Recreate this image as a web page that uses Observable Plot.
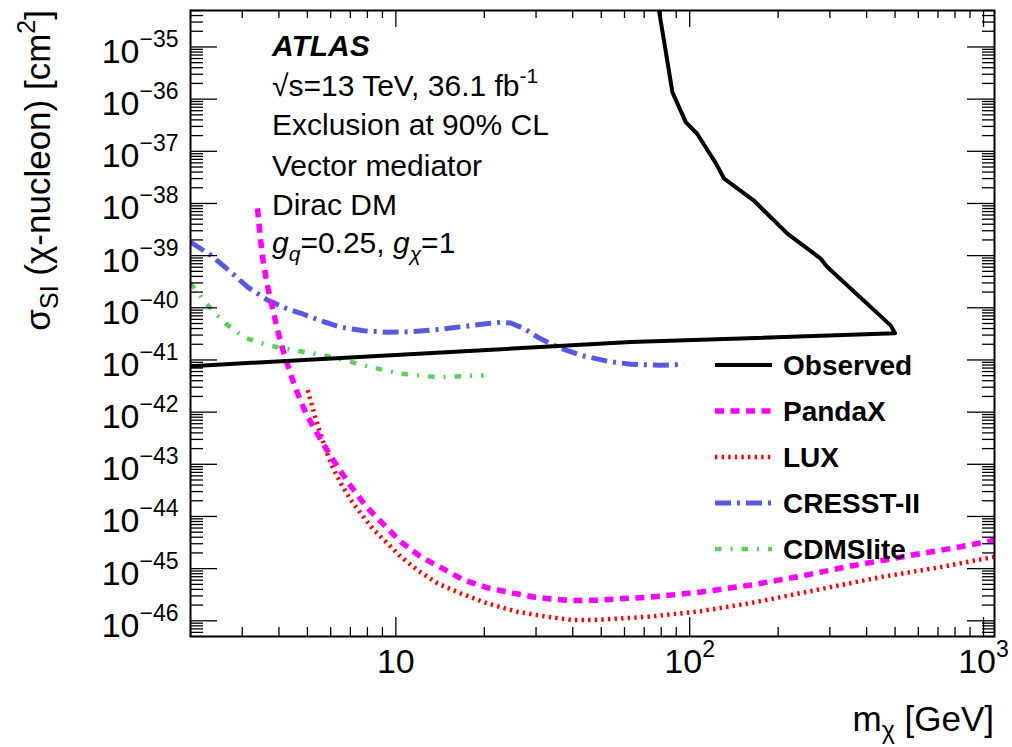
<!DOCTYPE html>
<html>
<head>
<meta charset="utf-8">
<script src="https://cdn.jsdelivr.net/npm/d3@7"></script>
<script src="https://cdn.jsdelivr.net/npm/@observablehq/plot@0.6"></script>
<style>
  html, body { margin: 0; padding: 0; background: #ffffff; }
  #chart svg { display: block; }
</style>
</head>
<body>
<div id="chart"></div>
<script>
// Dark-matter mass m_chi [GeV] and spin-independent chi-nucleon cross-section [cm^2]

// ATLAS observed 90% CL exclusion contour (Vector mediator, Dirac DM)
const observedMass = [2, 63, 500, 483, 294, 279, 215, 165, 131, 123, 106, 97, 87.3, 82.8, 78.6, 77];
const observedXsec = [7.6e-42, 2.2e-41, 3.25e-41, 4.6e-41, 6.05e-40, 8.8e-40, 2.64e-39, 1.15e-38,
                      2.98e-38, 5.8e-38, 2.17e-37, 3.62e-37, 1.36e-36, 8.6e-36, 5e-35, 1.2e-34];

// PandaX
const pandaxMass = [3.38, 3.45, 3.53, 3.64, 3.79, 3.94, 4.13, 4.36, 4.64, 4.94, 5.22, 5.56, 5.92, 6.35,
                    7.03, 7.91, 9.01, 10.4, 12.16, 14.42, 17.03, 20.5, 24.6, 29.5, 35.5, 39.9, 48.5,
                    73.7, 109, 161, 239, 353, 572, 772, 1048, 1100];
const pandaxXsec = [8.05e-39, 2.45e-39, 8.13e-40, 2.94e-40, 1.07e-40, 4.05e-41, 1.53e-41, 5.81e-42,
                    2.2e-42, 9.53e-43, 5.37e-43, 2.9e-43, 1.63e-43, 8.8e-44, 3.8e-44, 1.57e-44,
                    7.35e-45, 3.26e-45, 1.68e-45, 1.01e-45, 6.02e-46, 4.29e-46, 3.47e-46, 2.85e-46,
                    2.55e-46, 2.44e-46, 2.49e-46, 2.85e-46, 3.55e-46, 4.83e-46, 7.18e-46, 1.12e-45,
                    1.82e-45, 2.42e-45, 3.36e-45, 3.55e-45];

// LUX
const luxMass = [5.01, 5.14, 5.27, 5.49, 5.78, 6.09, 6.5, 7.03, 7.6, 8.33, 9.25, 10.4, 11.85, 13.87,
                 16.64, 20.5, 25.9, 32.8, 40.4, 49.8, 73.7, 109, 161, 239, 353, 446, 714, 1073, 1100];
const luxXsec = [2.63e-42, 1.57e-42, 9.4e-43, 4.5e-43, 1.86e-43, 8.91e-44, 4.29e-44, 2.05e-44,
                 1.14e-44, 5.89e-45, 3.26e-45, 1.68e-45, 9.35e-46, 5.2e-46, 3.35e-46, 2.15e-46,
                 1.49e-46, 1.19e-46, 1.03e-46, 1.05e-46, 1.2e-46, 1.53e-46, 2.18e-46, 3.4e-46,
                 5.27e-46, 6.87e-46, 1.07e-45, 1.66e-45, 1.71e-45];

// CRESST-II
const cresstMass = [2.0, 2.35, 2.75, 3.14, 3.67, 4.23, 4.75, 5.56, 6.5, 7.79, 9.39, 11.25, 13.15,
                    16.64, 20.24, 22.76, 24.6, 27.3, 30.3, 35.5, 42.6, 52.5, 63, 79.7, 95.6];
const cresstXsec = [1.82e-39, 1.01e-39, 4.79e-40, 2.47e-40, 1.39e-40, 9.77e-41, 7.85e-41, 5.64e-41,
                    4.23e-41, 3.62e-41, 3.4e-41, 3.47e-41, 3.71e-41, 4.32e-41, 4.93e-41, 5.27e-41,
                    5.12e-41, 4.0e-41, 2.76e-41, 1.77e-41, 1.23e-41, 9.44e-42, 8.28e-42, 7.91e-42,
                    8.28e-42];

// CDMSlite
const cdmsMass = [2.0, 2.29, 2.6, 3.04, 3.67, 4.5, 5.69, 6.5, 8.03, 10.16, 13.9, 19.9];
const cdmsXsec = [2.94e-40, 1.12e-40, 5.27e-41, 2.72e-41, 1.91e-41, 1.54e-41, 1.23e-41, 1.03e-41,
                  7.57e-42, 5.56e-42, 4.66e-42, 5.09e-42];

// Axis ticks and labels
const xMajorTicks = [10, 100, 1000];
const xTickLabels = ["10", "10^2", "10^3"];
const yMajorExponents = [-46, -45, -44, -43, -42, -41, -40, -39, -38, -37, -36, -35];
const yTickLabels = yMajorExponents.map(e => "10^\u2212" + Math.abs(e));

// Legend entries
const legendNames = ["Observed", "PandaX", "LUX", "CRESST-II", "CDMSlite"];

// ---------------------------------------------------------------
const W = 1012, H = 747;
const mL = 190, mR = 18, mT = 10, mB = 111;
const plotW = W - mL - mR;
const plotH = H - mT - mB;
const xDomain = [2, 1090];
const yDomain = [5e-47, 5e-35];
const FONT = "'Liberation Sans', Arial, Helvetica, sans-serif";

const styles = {
  Observed:   {stroke: "#000000", strokeWidth: 4,   strokeDasharray: null},
  PandaX:     {stroke: "#ff00ff", strokeWidth: 5.5, strokeDasharray: "9,6.5"},
  LUX:        {stroke: "#ff0000", strokeWidth: 4.5, strokeDasharray: "2.4,4.2"},
  "CRESST-II":{stroke: "#5858e0", strokeWidth: 5,   strokeDasharray: "16,6,3,6"},
  CDMSlite:   {stroke: "#58d058", strokeWidth: 4.5, strokeDasharray: "6.5,9,2,9"}
};

const toRows = (ms, xs) => ms.map((m, i) => ({m, s: xs[i]}));
const series = {
  Observed: toRows(observedMass, observedXsec),
  PandaX: toRows(pandaxMass, pandaxXsec),
  LUX: toRows(luxMass, luxXsec),
  "CRESST-II": toRows(cresstMass, cresstXsec),
  CDMSlite: toRows(cdmsMass, cdmsXsec)
};

// Minor tick positions (2..9 within each decade)
function minorTicks(domain) {
  const out = [];
  const lo = Math.floor(Math.log10(domain[0])), hi = Math.ceil(Math.log10(domain[1]));
  for (let e = lo; e <= hi; e++) {
    for (let k = 2; k <= 9; k++) {
      const v = k * Math.pow(10, e);
      if (v >= domain[0] && v <= domain[1]) out.push(v);
    }
  }
  return out;
}
const yMajorTicks = yMajorExponents.map(e => Math.pow(10, e));
const xMinor = minorTicks(xDomain);
const yMinor = minorTicks(yDomain);

const xLabelOf = new Map(xMajorTicks.map((v, i) => [v, xTickLabels[i]]));
const yLabelOf = new Map(yMajorTicks.map((v, i) => [v, yTickLabels[i]]));

const tickStyle = {stroke: "black", strokeWidth: 1.3};

const lineMarks = ["CDMSlite", "CRESST-II", "LUX", "PandaX", "Observed"].map(name =>
  Plot.line(series[name], {
    x: "m", y: "s",
    stroke: styles[name].stroke,
    strokeWidth: styles[name].strokeWidth,
    strokeDasharray: styles[name].strokeDasharray,
    strokeLinecap: "butt",
    strokeLinejoin: "round",
    clip: true
  })
);

const svg = Plot.plot({
  width: W, height: H,
  marginLeft: mL, marginRight: mR, marginTop: mT, marginBottom: mB,
  x: {type: "log", domain: xDomain},
  y: {type: "log", domain: yDomain},
  style: {fontFamily: FONT, background: "#ffffff", color: "#000000", overflow: "visible"},
  marks: [
    ...lineMarks,
    // inward ticks on all four sides
    Plot.tickY(yMinor, {y: d => d, insetRight: plotW - 13, ...tickStyle}),
    Plot.tickY(yMajorTicks, {y: d => d, insetRight: plotW - 27, ...tickStyle}),
    Plot.tickY(yMinor, {y: d => d, insetLeft: plotW - 12, ...tickStyle}),
    Plot.tickY(yMajorTicks, {y: d => d, insetLeft: plotW - 27, ...tickStyle}),
    Plot.tickX(xMinor, {x: d => d, insetTop: plotH - 9, ...tickStyle}),
    Plot.tickX(xMajorTicks, {x: d => d, insetTop: plotH - 19, ...tickStyle}),
    Plot.tickX(xMinor, {x: d => d, insetBottom: plotH - 8, ...tickStyle}),
    Plot.tickX(xMajorTicks, {x: d => d, insetBottom: plotH - 17, ...tickStyle}),
    Plot.frame({stroke: "black", strokeWidth: 2}),
    Plot.axisX(xMajorTicks, {anchor: "bottom", tickSize: 0, tickPadding: 12,
      tickFormat: d => xLabelOf.get(d), fontSize: 34, label: null}),
    Plot.axisY(yMajorTicks, {anchor: "left", tickSize: 0, tickPadding: 12,
      tickFormat: d => yLabelOf.get(d), fontSize: 34, label: null})
  ]
});

// Turn "10^n" tick labels into base + raised exponent
function supify(el, supSize, rise) {
  const s = el.textContent;
  const i = s.indexOf("^");
  const sel = d3.select(el);
  el.textContent = "";
  if (i < 0) { sel.append("tspan").text(s); return; }
  sel.append("tspan").text(s.slice(0, i));
  sel.append("tspan").attr("dy", -rise).attr("font-size", supSize).text(s.slice(i + 1));
}
d3.select(svg).selectAll('g[aria-label="x-axis tick label"] text').each(function () {
  supify(this, 23, 16);
  d3.select(this).attr("dy", 0);
});
d3.select(svg).selectAll('g[aria-label="y-axis tick label"] text').each(function () {
  supify(this, 23, 16);
  d3.select(this).attr("dy", 5);
});

const root = d3.select(svg);

// Axis titles
const xt = root.append("text")
  .attr("x", W - mR).attr("y", 731).attr("text-anchor", "end")
  .attr("font-family", FONT).attr("font-size", 35);
xt.append("tspan").text("m");
xt.append("tspan").attr("font-size", 25).attr("dy", 8).text("\u03c7");
xt.append("tspan").attr("dy", -8).text(" [GeV]");

const yt = root.append("text")
  .attr("transform", `translate(50,${mT}) rotate(-90)`).attr("text-anchor", "end")
  .attr("font-family", FONT).attr("font-size", 35);
yt.append("tspan").text("\u03c3");
yt.append("tspan").attr("font-size", 25).attr("dy", 8).text("SI");
yt.append("tspan").attr("dy", -8).text(" (\u03c7-nucleon) [cm");
yt.append("tspan").attr("font-size", 25).attr("dy", -15).text("2");
yt.append("tspan").attr("dy", 15).text("]");

// Info block
const infoX = 272;
const info = root.append("g").attr("font-family", FONT).attr("font-size", 30)
  .attr("text-anchor", "start");
info.append("text").attr("x", infoX).attr("y", 56)
  .attr("font-weight", "bold").attr("font-style", "italic").text("ATLAS");
const l2 = info.append("text").attr("x", infoX).attr("y", 96);
l2.append("tspan").text("\u221as=13 TeV, 36.1 fb");
l2.append("tspan").attr("font-size", 21).attr("dy", -13).text("-1");
info.append("text").attr("x", infoX).attr("y", 135).text("Exclusion at 90% CL");
info.append("text").attr("x", infoX).attr("y", 176).text("Vector mediator");
info.append("text").attr("x", infoX).attr("y", 215).text("Dirac DM");
const l6 = info.append("text").attr("x", infoX).attr("y", 253);
l6.append("tspan").attr("font-style", "italic").text("g");
l6.append("tspan").attr("font-style", "italic").attr("font-size", 21).attr("dy", 8).text("q");
l6.append("tspan").attr("dy", -8).text("=0.25, ");
l6.append("tspan").attr("font-style", "italic").text("g");
l6.append("tspan").attr("font-style", "italic").attr("font-size", 21).attr("dy", 8).text("\u03c7");
l6.append("tspan").attr("dy", -8).text("=1");

// Legend
const legend = root.append("g").attr("font-family", FONT).attr("text-anchor", "start");
legendNames.forEach((name, i) => {
  const y = 365 + i * 46;
  const st = styles[name];
  legend.append("line")
    .attr("x1", 715).attr("x2", 772).attr("y1", y).attr("y2", y)
    .attr("stroke", st.stroke).attr("stroke-width", st.strokeWidth)
    .attr("stroke-dasharray", st.strokeDasharray).attr("stroke-linecap", "butt");
  legend.append("text").attr("x", 783).attr("y", y + 10)
    .attr("font-size", 28).attr("font-weight", "bold").text(name);
});

document.getElementById("chart").appendChild(svg);
</script>
</body>
</html>
